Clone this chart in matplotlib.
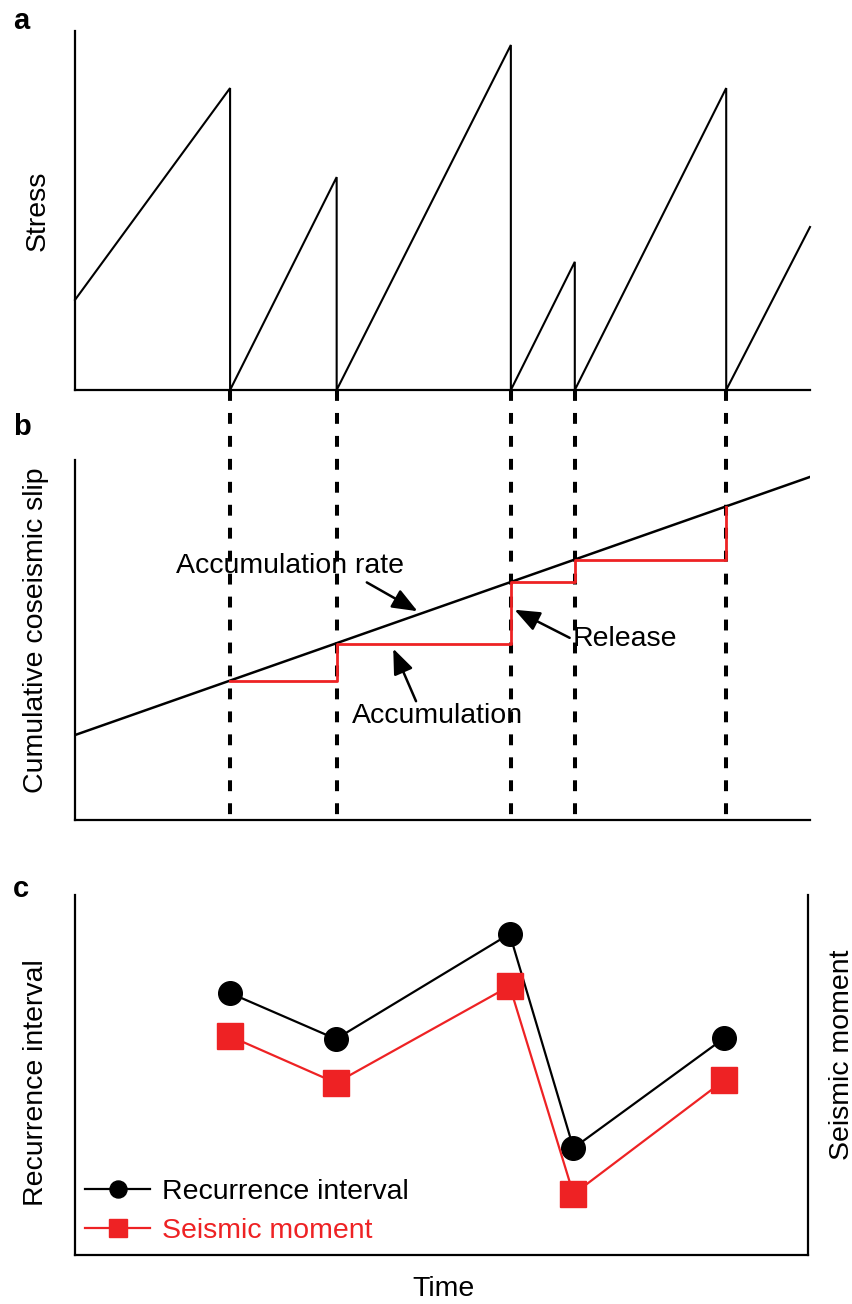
import matplotlib
matplotlib.use("Agg")
import matplotlib.pyplot as plt
from matplotlib.lines import Line2D
import matplotlib.transforms as mtransforms

plt.rcParams['font.family'] = ['Liberation Sans', 'DejaVu Sans']
plt.rcParams['font.size'] = 20.5

RED = '#EE2224'

# earthquake times (arbitrary time units, axis runs 0-100)
quake_times = [21.1, 35.6, 59.3, 68.0, 88.6]

# panel a: stress sawtooth, (time, stress) vertices
stress_t = [0, 21.1, 21.1, 35.6, 35.6, 59.3, 59.3, 68.0, 68.0, 88.6, 88.6, 100]
stress_v = [25.1, 84.1, 0, 59.3, 0, 96.1, 0, 35.7, 0, 84.1, 0, 45.4]

# panel b: long-term accumulation line and cumulative coseismic slip
rate_t = [0, 100]
rate_v = [23.6, 95.3]
slip_levels = [38.5, 48.8, 66.0, 72.3, 87.0]

# panel c: recurrence interval and seismic moment per event
recurrence = [72.8, 60.0, 89.2, 29.7, 60.3]
moment = [60.8, 47.8, 74.7, 16.9, 48.6]

fig = plt.figure(figsize=(8.53, 13.04), dpi=100)
W, H = 853, 1304


def px_axes(left, top, right, bottom):
    return fig.add_axes([left / W, 1 - bottom / H, (right - left) / W, (bottom - top) / H])


axa = px_axes(75, 31, 810, 390)
axb = px_axes(75, 460, 810, 820)
axc = px_axes(75, 895, 808, 1255)

for ax in (axa, axb, axc):
    ax.set_xlim(0, 100)
    ax.set_ylim(0, 100)
    ax.set_xticks([])
    ax.set_yticks([])
    for s in ax.spines.values():
        s.set_linewidth(1.6)
    ax.spines['top'].set_visible(False)
    ax.spines['right'].set_visible(False)
axc.spines['right'].set_visible(True)

# a: stress
axa.plot(stress_t, stress_v, color='k', lw=1.5, solid_joinstyle='miter', clip_on=False)
axa.set_ylabel('Stress')
axa.yaxis.set_label_coords(-0.033, 0.5)

# b: slip
axb.plot(rate_t, rate_v, color='k', lw=1.8, zorder=3)
axb.plot(quake_times, slip_levels, color=RED, lw=2.0, drawstyle='steps-post', zorder=4)
axb.set_ylabel('Cumulative coseismic slip')
axb.yaxis.set_label_coords(-0.036, 0.528)

arrow_kw = dict(arrowstyle='-|>,head_length=0.55,head_width=0.22', color='k', lw=1.8,
                mutation_scale=28, shrinkA=0, shrinkB=0)
axb.annotate('', xy=(46.6, 58.0), xytext=(39.7, 66.0), arrowprops=arrow_kw, zorder=5)
axb.text(29.3, 70.6, 'Accumulation rate', ha='center', va='center')
axb.annotate('', xy=(43.3, 47.6), xytext=(46.4, 33.0), arrowprops=arrow_kw, zorder=5)
axb.text(49.3, 28.9, 'Accumulation', ha='center', va='center')
axb.annotate('', xy=(59.8, 58.4), xytext=(67.3, 50.6), arrowprops=arrow_kw, zorder=5)
axb.text(74.8, 50.3, 'Release', ha='center', va='center')

# dashed event markers from the bottom of a to the bottom of b
trans = mtransforms.blended_transform_factory(axb.transData, fig.transFigure)
y_lo = axb.get_position().y0
y_hi = axa.get_position().y0
for t in quake_times:
    ln = Line2D([t, t], [y_hi, y_lo], transform=trans, color='k', lw=2.9,
                dashes=(2.7, 3.0), zorder=2, clip_on=False)
    axb.add_line(ln)

# c: recurrence / moment
axc.plot(quake_times, recurrence, color='k', lw=1.6, marker='o', ms=17,
         label='Recurrence interval', zorder=3)
axc.plot(quake_times, moment, color=RED, lw=1.6, marker='s', ms=18.5,
         label='Seismic moment', zorder=4)
axc.set_ylabel('Recurrence interval')
axc.yaxis.set_label_coords(-0.036, 0.48)
axc.text(1.047, 0.556, 'Seismic moment', rotation=90, ha='center', va='center',
         transform=axc.transAxes)
axc.set_xlabel('Time')
axc.xaxis.set_label_coords(0.503, -0.058)

leg = axc.legend(loc='lower left', bbox_to_anchor=(0.0136, 0.03), frameon=False,
                 borderpad=0, borderaxespad=0, handlelength=2.3, handletextpad=0.42,
                 labelspacing=0.45, markerscale=0.72)
leg.get_texts()[1].set_color(RED)

for label, ypx in (('a', 29), ('b', 435), ('c', 897)):
    fig.text(13 / W, 1 - ypx / H, label, fontsize=21, fontweight='bold', va='baseline')

fig.savefig('out.png', dpi=100)
